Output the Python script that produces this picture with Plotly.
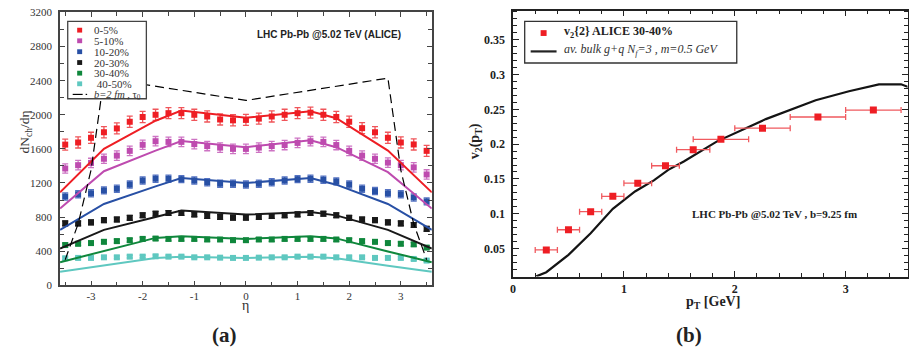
import plotly.graph_objects as go

W, H = 909, 357

# ---------------- Panel (a) data ----------------
eta = [-3.5, -3.25, -3.0, -2.75, -2.5, -2.25, -2.0, -1.75, -1.5, -1.25, -1.0, -0.75, -0.5, -0.25,
       0.0, 0.25, 0.5, 0.75, 1.0, 1.25, 1.5, 1.75, 2.0, 2.25, 2.5, 2.75, 3.0, 3.25, 3.5]

cent_0_5 = [1650, 1675, 1730, 1795, 1840, 1918, 1974, 2000, 2019, 2019, 2000, 1980, 1945, 1935,
            1940, 1955, 1980, 2000, 2019, 2025, 2000, 1974, 1918, 1843, 1795, 1730, 1675, 1652, 1577]
cent_5_10 = [1370, 1409, 1435, 1484, 1521, 1577, 1648, 1690, 1682, 1682, 1656, 1633, 1615, 1600,
             1600, 1615, 1633, 1645, 1670, 1690, 1682, 1645, 1577, 1521, 1484, 1439, 1409, 1383, 1300]
cent_10_20 = [1041, 1067, 1079, 1113, 1132, 1181, 1230, 1250, 1250, 1245, 1230, 1208, 1192, 1192,
              1181, 1192, 1208, 1230, 1245, 1250, 1238, 1219, 1181, 1132, 1105, 1079, 1067, 1030, 984]
cent_20_30 = [726, 726, 738, 764, 772, 791, 821, 840, 848, 848, 832, 813, 802, 794,
              794, 802, 813, 821, 832, 848, 840, 821, 791, 772, 764, 738, 726, 707, 662]
cent_30_40 = [472, 487, 495, 510, 518, 529, 544, 548, 544, 544, 544, 537, 537, 529,
              529, 537, 537, 544, 544, 544, 544, 537, 529, 518, 510, 495, 487, 480, 442]
cent_40_50 = [317, 321, 321, 328, 328, 336, 336, 340, 336, 336, 328, 328, 324, 321,
              321, 324, 328, 328, 336, 336, 336, 328, 328, 328, 321, 321, 321, 309, 290]

err_0_5 = [65] * 29
err_5_10 = [55] * 29
err_10_20 = [42] * 29
err_20_30 = [28] * 29
err_30_40 = [22] * 29
err_40_50 = [16] * 29

eta_model = [-3.6, -2.75, -1.75, -1.25, 0.0, 1.25, 1.75, 2.75, 3.6]
model_0_5 = [1090, 1600, 1930, 2050, 1965, 2040, 1960, 1580, 1090]
model_5_10 = [900, 1338, 1580, 1693, 1620, 1700, 1620, 1327, 900]
model_10_20 = [650, 954, 1160, 1257, 1200, 1257, 1180, 954, 650]
model_20_30 = [430, 650, 800, 878, 829, 859, 820, 650, 430]
model_30_40 = [271, 404, 556, 575, 544, 575, 550, 397, 271]
model_40_50 = [158, 234, 320, 336, 321, 336, 318, 230, 158]

eta_b2 = [-3.5, -3.25, -3.0, -2.75, 0.0, 2.75, 3.0, 3.25, 3.5]
model_b2 = [300, 720, 1350, 2430, 2168, 2430, 1350, 720, 300]

series_names = ["0-5%", "5-10%", "10-20%", "20-30%", "30-40%", " 40-50%"]

eta_tickvals = [-3, -2, -1, 0, 1, 2, 3]
eta_ticktext = ["-3", "-2", "-1", "0", "1", "2", "3"]
dn_tickvals = [0, 400, 800, 1200, 1600, 2000, 2400, 2800, 3200]

# ---------------- Panel (b) data ----------------
pt = [0.30, 0.50, 0.70, 0.90, 1.125, 1.375, 1.625, 1.875, 2.25, 2.75, 3.25]
v2 = [0.048, 0.077, 0.103, 0.125, 0.144, 0.169, 0.192, 0.207, 0.223, 0.239, 0.249]
pt_err = [0.1, 0.1, 0.1, 0.1, 0.125, 0.125, 0.15, 0.25, 0.25, 0.25, 0.25]

pt_model = [0.21, 0.30, 0.50, 0.70, 0.90, 1.10, 1.27, 1.40, 1.54, 1.84, 2.28, 2.73, 3.03, 3.30, 3.50, 3.60]
v2_model = [0.010, 0.016, 0.041, 0.072, 0.107, 0.132, 0.148, 0.163, 0.175, 0.204, 0.236, 0.263, 0.276, 0.286, 0.286, 0.280]

# ---------------- styles ----------------
colors = ["rgb(238,30,36)", "rgb(190,75,175)", "rgb(40,80,165)", "rgb(25,25,25)", "rgb(15,135,60)", "rgb(95,200,192)"]
err_colors = ["rgb(240,85,90)", "rgb(205,115,195)", "rgb(85,115,195)", "rgb(40,40,40)", "rgb(40,150,80)", "rgb(125,212,205)"]
SERIF = "Liberation Serif"
SANS = "Liberation Sans"


def px(x):
    return x / W


def py(y):
    return 1 - y / H


fig = go.Figure()

data_sets = [cent_0_5, cent_5_10, cent_10_20, cent_20_30, cent_30_40, cent_40_50]
err_sets = [err_0_5, err_5_10, err_10_20, err_20_30, err_30_40, err_40_50]
model_sets = [model_0_5, model_5_10, model_10_20, model_20_30, model_30_40, model_40_50]

for name, vals, errs, col, ecol in zip(series_names, data_sets, err_sets, colors, err_colors):
    fig.add_trace(go.Scatter(
        x=eta, y=vals, mode="markers", name=name, xaxis="x", yaxis="y",
        marker=dict(symbol="square", size=6, color=col),
        error_y=dict(type="data", array=errs, color=ecol, thickness=1.3, width=3),
        showlegend=False, cliponaxis=False))

for vals, col in zip(model_sets, colors):
    fig.add_trace(go.Scatter(
        x=eta_model, y=vals, mode="lines", xaxis="x", yaxis="y",
        line=dict(color=col, width=2), showlegend=False))

fig.add_trace(go.Scatter(
    x=eta_b2, y=model_b2, mode="lines", xaxis="x", yaxis="y",
    line=dict(color="black", width=1.2, dash="9px,5px"), showlegend=False))

# panel (b)
fig.add_trace(go.Scatter(
    x=pt_model, y=v2_model, mode="lines", xaxis="x2", yaxis="y2",
    line=dict(color="rgb(20,20,20)", width=2.2), showlegend=False))
fig.add_trace(go.Scatter(
    x=pt, y=v2, mode="markers", xaxis="x2", yaxis="y2",
    marker=dict(symbol="square", size=7, color="rgb(238,30,36)"),
    error_x=dict(type="data", array=pt_err, color="rgb(240,90,95)", thickness=1.3, width=3),
    showlegend=False))

axis_common = dict(showgrid=False, zeroline=False, showline=True, mirror="allticks",
                   ticks="inside", linewidth=1.5)

fig.update_layout(
    width=W, height=H, margin=dict(l=0, r=0, t=0, b=0),
    paper_bgcolor="white", plot_bgcolor="white", showlegend=False,
    xaxis=dict(domain=[px(57.3), px(430.7)], range=[-3.6, 3.6], anchor="y",
               tickmode="array", tickvals=eta_tickvals, ticktext=eta_ticktext,
               ticklen=5, tickcolor="#444", linecolor="#444",
               minor=dict(tickmode="linear", tick0=0, dtick=0.5, ticklen=4, ticks="inside", tickcolor="#444"),
               tickfont=dict(family=SERIF, size=11, color="#333"), **axis_common),
    yaxis=dict(domain=[py(289), py(6.7)], range=[0, 3200], anchor="x",
               tickmode="array", tickvals=dn_tickvals, ticklabelstandoff=4,
               ticklen=5, tickcolor="#444", linecolor="#444",
               minor=dict(tickmode="linear", tick0=0, dtick=200, ticklen=4, ticks="inside", tickcolor="#444"),
               tickfont=dict(family=SERIF, size=11, color="#333"), **axis_common),
    xaxis2=dict(domain=[px(512.3), px(908.5)], range=[0, 3.558], anchor="y2",
                dtick=1, tick0=0, ticklen=6, tickcolor="#222", linecolor="#222",
                minor=dict(tickmode="linear", tick0=0, dtick=0.2, ticklen=4, ticks="inside", tickcolor="#222"),
                tickfont=dict(family=SERIF, size=12, color="#222", weight="bold"), **axis_common),
    yaxis2=dict(domain=[py(280), py(4.7)], range=[0.0097, 0.392], anchor="x2",
                dtick=0.05, tick0=0, ticklen=6, tickcolor="#222", linecolor="#222", ticklabelstandoff=4,
                minor=dict(tickmode="linear", tick0=0, dtick=0.01, ticklen=4, ticks="inside", tickcolor="#222"),
                tickfont=dict(family=SERIF, size=12, color="#222", weight="bold"), **axis_common),
)

shapes = []
annotations = []

# legend (a)
shapes.append(dict(type="rect", xref="paper", yref="paper", x0=px(65), x1=px(144), y0=py(96), y1=py(16),
                   line=dict(color="#444", width=1.3), fillcolor="white", layer="above"))
leg_y = [25, 36, 47.3, 58.5, 69.5, 80.5]
for name, col, yy in zip(series_names, colors, leg_y):
    shapes.append(dict(type="rect", xref="paper", yref="paper", x0=px(74.5), x1=px(79.5),
                       y0=py(yy + 2.5), y1=py(yy - 2.5), line=dict(width=0), fillcolor=col, layer="above"))
    annotations.append(dict(xref="paper", yref="paper", x=px(89), y=py(yy), xanchor="left", yanchor="middle",
                            text=name.replace(" ", "&nbsp;"), showarrow=False,
                            font=dict(family=SERIF, size=11, color="#333")))
shapes.append(dict(type="line", xref="paper", yref="paper", x0=px(70), x1=px(80), y0=py(91.5), y1=py(91.5),
                   line=dict(color="black", width=1.2), layer="above"))
shapes.append(dict(type="line", xref="paper", yref="paper", x0=px(83), x1=px(84.5), y0=py(91.5), y1=py(91.5),
                   line=dict(color="black", width=1.2), layer="above"))
annotations.append(dict(xref="paper", yref="paper", x=px(89), y=py(92.5), xanchor="left", yanchor="middle",
                        text="<i>b=2 fm</i> , τ<sub>0</sub>", showarrow=False,
                        font=dict(family=SERIF, size=10.5, color="#333")))

annotations.append(dict(xref="paper", yref="paper", x=px(327), y=py(29), xanchor="center", yanchor="middle",
                        text="<b>LHC Pb-Pb @5.02 TeV (ALICE)</b>", showarrow=False,
                        font=dict(family=SANS, size=10, color="#222")))

# legend (b)
shapes.append(dict(type="rect", xref="paper", yref="paper", x0=px(524), x1=px(737), y0=py(59), y1=py(16),
                   line=dict(color="#333", width=1.3), fillcolor="white", layer="above"))
shapes.append(dict(type="rect", xref="paper", yref="paper", x0=px(540), x1=px(546), y0=py(31), y1=py(25),
                   line=dict(width=0), fillcolor="rgb(238,30,36)", layer="above"))
annotations.append(dict(xref="paper", yref="paper", x=px(561), y=py(27), xanchor="left", yanchor="middle",
                        text="<b>v<sub>2</sub>{2} ALICE 30-40%</b>", showarrow=False,
                        font=dict(family=SERIF, size=12, color="#222")))
shapes.append(dict(type="line", xref="paper", yref="paper", x0=px(530), x1=px(556), y0=py(47), y1=py(47),
                   line=dict(color="#222", width=2.2), layer="above"))
annotations.append(dict(xref="paper", yref="paper", x=px(561), y=py(45.5), xanchor="left", yanchor="middle",
                        text="<i>av. bulk g+q N<sub>f</sub>=3 , m=0.5 GeV</i>", showarrow=False,
                        font=dict(family=SERIF, size=12, color="#333")))

annotations.append(dict(xref="paper", yref="paper", x=px(775), y=py(215), xanchor="center", yanchor="middle",
                        text="<b>LHC Pb-Pb @5.02 TeV , b=9.25 fm</b>", showarrow=False,
                        font=dict(family=SERIF, size=11, color="#222")))

# axis titles
annotations.append(dict(xref="paper", yref="paper", x=px(23), y=py(130), xanchor="center", yanchor="middle",
                        text="dN<sub>ch</sub>/dη", textangle=-90, showarrow=False,
                        font=dict(family=SERIF, size=13.5, color="#333")))
annotations.append(dict(xref="paper", yref="paper", x=px(244), y=py(310), xanchor="center", yanchor="middle",
                        text="η", showarrow=False, font=dict(family=SERIF, size=14, color="#333")))
annotations.append(dict(xref="paper", yref="paper", x=px(474), y=py(140), xanchor="center", yanchor="middle",
                        text="<b>v<sub>2</sub>(p<sub>T</sub>)</b>", textangle=-90, showarrow=False,
                        font=dict(family=SERIF, size=14, color="#222")))
annotations.append(dict(xref="paper", yref="paper", x=px(713), y=py(307), xanchor="center", yanchor="middle",
                        text="<b>p<sub>T</sub> [GeV]</b>", showarrow=False,
                        font=dict(family=SERIF, size=14, color="#222")))

# panel labels
annotations.append(dict(xref="paper", yref="paper", x=px(222), y=py(340), xanchor="center", yanchor="middle",
                        text="<b>(a)</b>", showarrow=False, font=dict(family=SERIF, size=21, color="#222")))
annotations.append(dict(xref="paper", yref="paper", x=px(689), y=py(340), xanchor="center", yanchor="middle",
                        text="<b>(b)</b>", showarrow=False, font=dict(family=SERIF, size=21, color="#222")))

fig.update_layout(shapes=shapes, annotations=annotations)

fig.write_html("out.html", config={"displayModeBar": False},
               post_script="document.body.style.margin='0px';document.body.style.overflow='hidden';")
